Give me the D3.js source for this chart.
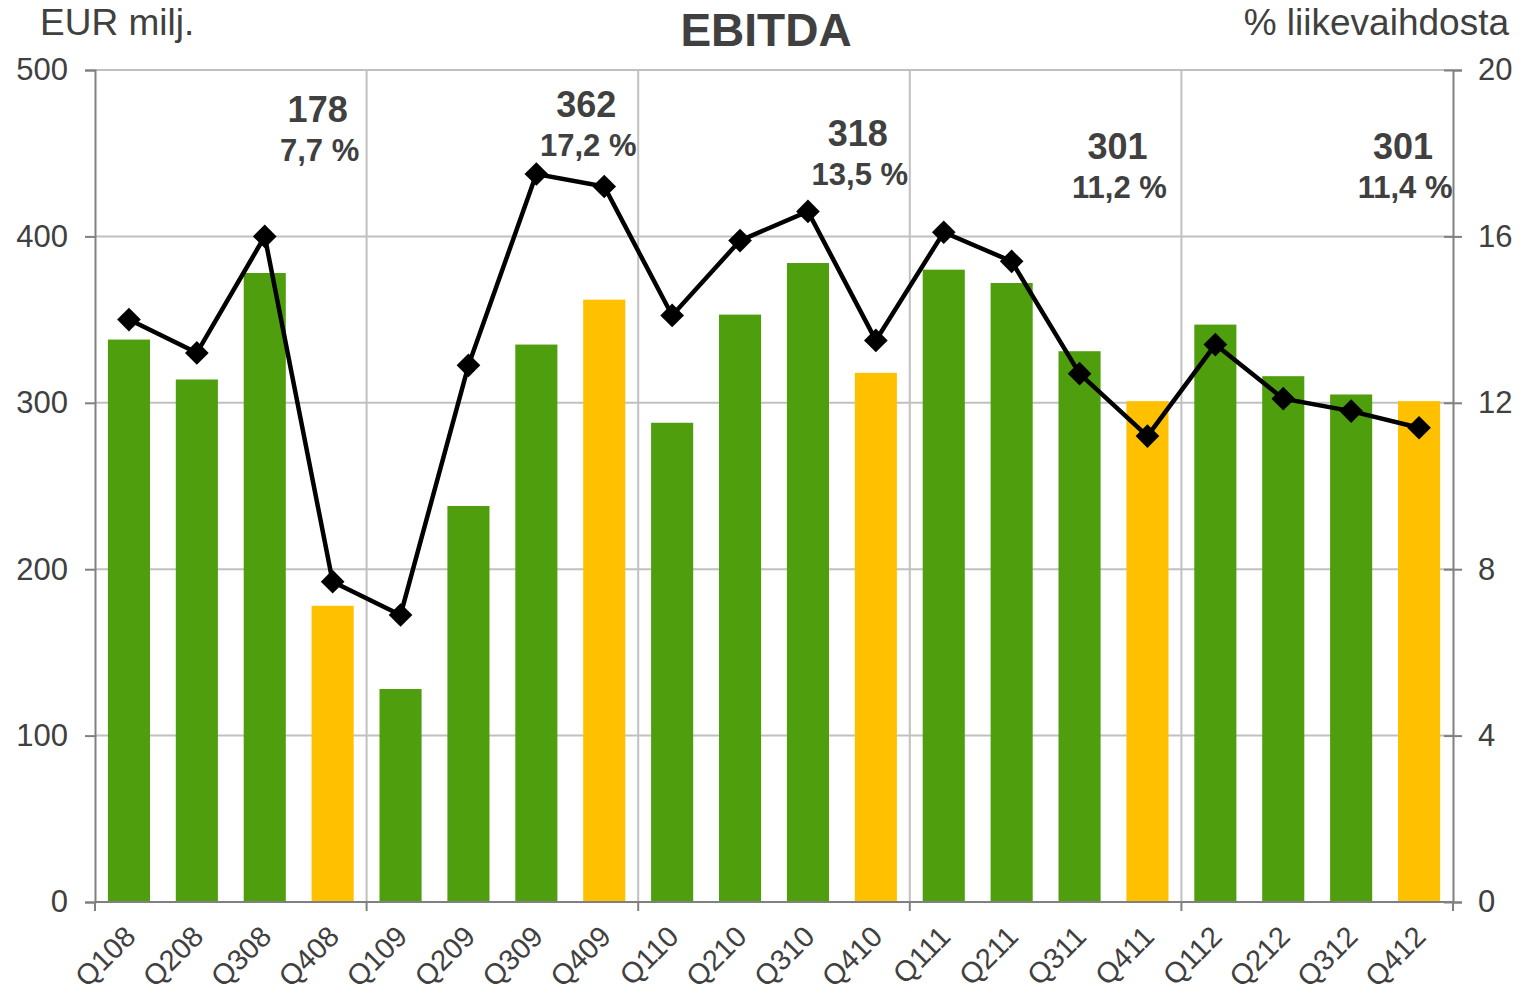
<!DOCTYPE html>
<html>
<head>
<meta charset="utf-8">
<script src="https://cdn.jsdelivr.net/npm/d3@7"></script>
<style>
  body { margin: 0; background: #fff; }
  svg { font-family: "Liberation Sans", Arial, sans-serif; }
</style>
</head>
<body>
<div id="chart"></div>
<script>
const quarters = ["Q108","Q208","Q308","Q408","Q109","Q209","Q309","Q409",
  "Q110","Q210","Q310","Q410","Q111","Q211","Q311","Q411",
  "Q112","Q212","Q312","Q412"];
const ebitda = [338, 314, 378, 178, 128, 238, 335, 362,
  288, 353, 384, 318, 380, 372, 331, 301,
  347, 316, 305, 301];
const margins = [14.0, 13.2, 16.0, 7.7, 6.9, 12.9, 17.5, 17.2,
  14.1, 15.9, 16.6, 13.5, 16.1, 15.4, 12.7, 11.2,
  13.4, 12.1, 11.8, 11.4];
// yearly totals shown above each year
const yearQuarter = ["Q408", "Q409", "Q410", "Q411", "Q412"];
const yearValue = ["178", "362", "318", "301", "301"];
const yearPct = ["7,7 %", "17,2 %", "13,5 %", "11,2 %", "11,4 %"];
const leftTicks = [0, 100, 200, 300, 400, 500];
const rightTicks = [0, 4, 8, 12, 16, 20];

const W = 1530, H = 996;
const margin = {top: 70, right: 77, bottom: 94, left: 95};
const green = "#4f9e0e", yellow = "#ffc000", textCol = "#404040";

const svg = d3.select("#chart").append("svg")
  .attr("width", W).attr("height", H);

const x = d3.scaleBand()
  .domain(quarters)
  .range([margin.left, W - margin.right])
  .paddingInner(0.38).paddingOuter(0.19);

const xs = d3.scaleBand().domain(quarters)
  .range([margin.left, W - margin.right]);

const y = d3.scaleLinear().domain([0, 500])
  .range([H - margin.bottom, margin.top]);
const y2 = d3.scaleLinear().domain([0, 20])
  .range([H - margin.bottom, margin.top]);

const x0 = margin.left, x1 = W - margin.right;
const yb = H - margin.bottom;

// horizontal grid
svg.append("g").selectAll("line")
  .data(leftTicks.slice(1))
  .join("line")
  .attr("x1", x0).attr("x2", x1)
  .attr("y1", d => y(d)).attr("y2", d => y(d))
  .attr("stroke", "#c0c0c0").attr("stroke-width", 2);

// vertical year separators
const yearStarts = quarters.filter((q, i) => i > 0 && i % 4 === 0);
svg.append("g").selectAll("line")
  .data(yearStarts)
  .join("line")
  .attr("x1", d => xs(d)).attr("x2", d => xs(d))
  .attr("y1", margin.top).attr("y2", yb)
  .attr("stroke", "#c0c0c0").attr("stroke-width", 2);

// bars
svg.append("g").selectAll("rect")
  .data(quarters)
  .join("rect")
  .attr("x", d => x(d))
  .attr("width", x.bandwidth())
  .attr("y", (d, i) => y(ebitda[i]))
  .attr("height", (d, i) => y(0) - y(ebitda[i]))
  .attr("fill", d => d.startsWith("Q4") ? yellow : green);

// axes
const leftAxis = svg.append("g")
  .attr("transform", `translate(${x0},0)`)
  .call(d3.axisLeft(y).tickValues(leftTicks).tickSize(10).tickPadding(17));
const rightAxis = svg.append("g")
  .attr("transform", `translate(${x1},0)`)
  .call(d3.axisRight(y2).tickValues(rightTicks).tickSize(9).tickPadding(16));
rightAxis.selectAll(".tick line").attr("x1", -9);

[leftAxis, rightAxis].forEach(a => {
  a.select(".domain").attr("stroke", "#808080").attr("stroke-width", 2);
  a.selectAll(".tick line").attr("stroke", "#808080").attr("stroke-width", 2);
  a.selectAll(".tick text").attr("fill", textCol)
    .style("font-size", "31px").style("font-family", "Liberation Sans, Arial, sans-serif");
});

// x axis
const bottom = svg.append("g").attr("transform", `translate(0,${yb})`);
bottom.append("line").attr("x1", x0).attr("x2", x1)
  .attr("stroke", "#808080").attr("stroke-width", 2);
const tickXs = [x0].concat(yearStarts.map(d => xs(d)), [x1]);
bottom.selectAll(".ytick")
  .data(tickXs)
  .join("line")
  .attr("x1", d => d).attr("x2", d => d)
  .attr("y1", 0).attr("y2", 9)
  .attr("stroke", "#808080").attr("stroke-width", 2);
bottom.selectAll("text")
  .data(quarters)
  .join("text")
  .attr("transform", d => `translate(${xs(d) + xs.bandwidth() / 2 - 6},${22}) rotate(-45)`)
  .attr("text-anchor", "end")
  .attr("dy", "0.7em")
  .attr("fill", textCol)
  .style("font-size", "29px")
  .text(d => d);

// margin line
const line = d3.line()
  .x((d, i) => xs(quarters[i]) + xs.bandwidth() / 2)
  .y(d => y2(d));
svg.append("path")
  .datum(margins)
  .attr("d", line)
  .attr("fill", "none")
  .attr("stroke", "#000")
  .attr("stroke-width", 4.5);
svg.append("g").selectAll("path")
  .data(margins)
  .join("path")
  .attr("d", d3.symbol(d3.symbolSquare, 280))
  .attr("transform", (d, i) =>
    `translate(${xs(quarters[i]) + xs.bandwidth() / 2},${y2(d)}) rotate(45)`)
  .attr("fill", "#000");

// year annotations
const annDx = [-15, -18, -18, -30, -16];
const annY = [122, 117, 146, 159, 159];
const ann = svg.append("g").attr("fill", textCol).attr("text-anchor", "middle")
  .style("font-weight", "bold");
ann.selectAll(".v")
  .data(yearValue)
  .join("text")
  .attr("x", (d, i) => xs(yearQuarter[i]) + xs.bandwidth() / 2 + annDx[i])
  .attr("y", (d, i) => annY[i])
  .style("font-size", "36px")
  .text(d => d);
ann.selectAll(".p")
  .data(yearPct)
  .join("text")
  .attr("x", (d, i) => xs(yearQuarter[i]) + xs.bandwidth() / 2 + annDx[i] + 2)
  .attr("y", (d, i) => annY[i] + 39)
  .style("font-size", "31px")
  .text(d => d);

// titles
svg.append("text")
  .attr("x", 766).attr("y", 46)
  .attr("text-anchor", "middle")
  .attr("fill", textCol)
  .style("font-size", "46px").style("font-weight", "bold")
  .text("EBITDA");
svg.append("text")
  .attr("x", 40).attr("y", 35)
  .attr("fill", textCol)
  .style("font-size", "37px")
  .text("EUR milj.");
svg.append("text")
  .attr("x", 1509).attr("y", 35)
  .attr("text-anchor", "end")
  .attr("fill", textCol)
  .style("font-size", "37px")
  .text("% liikevaihdosta");
</script>
</body>
</html>
